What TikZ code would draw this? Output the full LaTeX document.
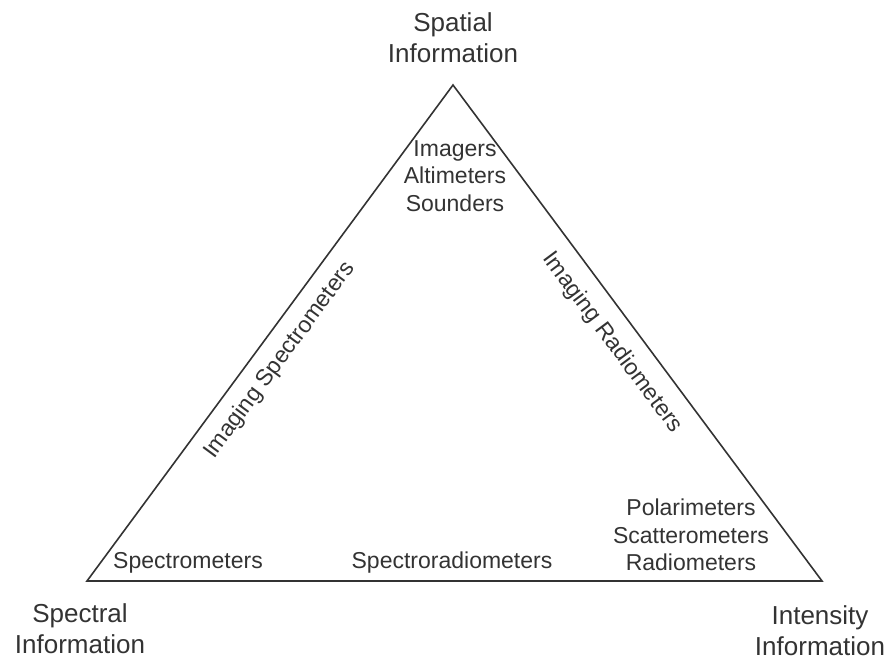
\documentclass[tikz,border=0pt]{standalone}
\usepackage{fontspec}
\setmainfont{Liberation Sans}
\usetikzlibrary{positioning}
\definecolor{inkgray}{HTML}{333333}

\begin{document}
\begin{tikzpicture}[x=1pt, y=-1pt, inkgray,
    font=\fontsize{23}{27.5}\selectfont,
    corner/.style={font=\fontsize{26}{31}\selectfont, align=center, inner sep=0pt},
    kind/.style={align=center}]
    \useasboundingbox (0,0) rectangle (891,658);
    %% --- triangle ---
    \coordinate (top) at (453,85);
    \coordinate (sl) at (87,581);
    \coordinate (sr) at (822,581);
    \draw[line width=1.6pt, line join=miter] (sl) -- (top) -- (sr) -- cycle;
    %% --- corner labels ---
    \node[corner] (spatial) at (453,38) {Spatial\\Information};
    \node[corner] (spectral) at (80,629) {Spectral\\Information};
    \node[corner] (intensity) at (820,631) {Intensity\\Information};
    %% --- instruments inside ---
    \node[kind] (imagers) at (455,176) {Imagers\\Altimeters\\Sounders};
    \node[kind] (polar) at (691,535) {Polarimeters\\Scatterometers\\Radiometers};
    \node (spectro) at (188,563) {Spectrometers};
    \node (spectrorad) at (452,563) {Spectroradiometers};
    %% --- along the edges ---
    \path (sl) -- (top)
      node[pos=0.474, sloped, below=10pt] (imgspec) {Imaging Spectrometers};
    \path (top) -- (sr)
      node[pos=0.488, sloped, below=12pt] (imgrad) {Imaging Radiometers};
\end{tikzpicture}
\end{document}
